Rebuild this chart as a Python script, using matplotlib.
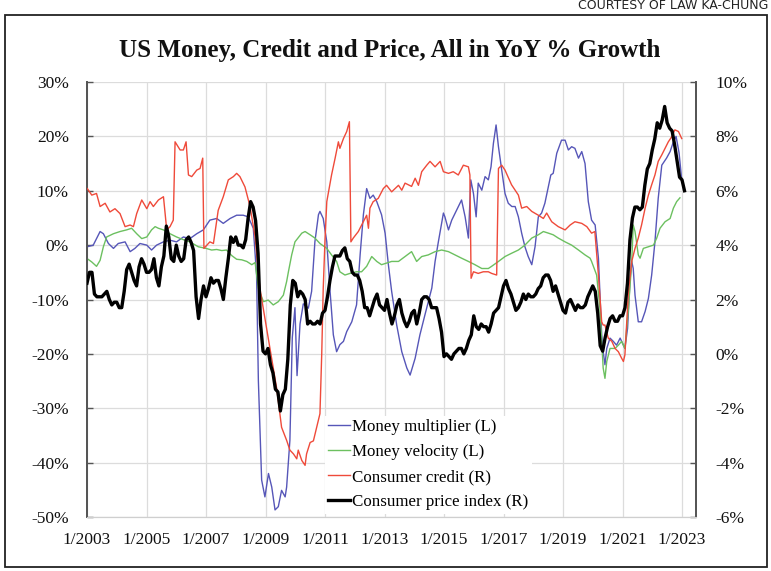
import numpy as np
import matplotlib
matplotlib.use("Agg")
import matplotlib.pyplot as plt
from matplotlib.patches import Rectangle

# ---------------- data ----------------
# Money multiplier YoY % (left axis)
mm_t = [2003.01, 2003.21, 2003.44, 2003.55, 2003.72, 2003.89, 2004.05, 2004.28, 2004.45, 2004.61,
        2004.78, 2005.01, 2005.17, 2005.34, 2005.57, 2005.79, 2006.01, 2006.24, 2006.46, 2006.69,
        2006.91, 2007.13, 2007.36, 2007.58, 2007.81, 2008.03, 2008.25, 2008.42, 2008.59, 2008.70,
        2008.76, 2008.87, 2008.98, 2009.10, 2009.21, 2009.32, 2009.43, 2009.54, 2009.66, 2009.71,
        2009.82, 2009.90, 2009.99, 2010.06, 2010.16, 2010.27, 2010.44, 2010.55, 2010.66, 2010.78,
        2010.83, 2010.94, 2011.06, 2011.17, 2011.28, 2011.39, 2011.50, 2011.62, 2011.73, 2011.90,
        2012.06, 2012.18, 2012.29, 2012.40, 2012.51, 2012.62, 2012.74, 2012.90, 2013.02, 2013.13,
        2013.24, 2013.41, 2013.58, 2013.75, 2013.86, 2014.03, 2014.19, 2014.36, 2014.59, 2014.70,
        2014.81, 2014.98, 2015.03, 2015.15, 2015.26, 2015.43, 2015.59, 2015.71, 2015.82, 2015.90,
        2015.99, 2016.08, 2016.15, 2016.27, 2016.38, 2016.49, 2016.58, 2016.66, 2016.75, 2016.83,
        2016.94, 2017.05, 2017.16, 2017.28, 2017.39, 2017.50, 2017.61, 2017.72, 2017.83, 2017.95,
        2018.06, 2018.17, 2018.28, 2018.39, 2018.51, 2018.59, 2018.67, 2018.79, 2018.95, 2019.07,
        2019.18, 2019.29, 2019.40, 2019.52, 2019.63, 2019.74, 2019.85, 2019.96, 2020.08, 2020.19,
        2020.30, 2020.35, 2020.41, 2020.47, 2020.58, 2020.69, 2020.80, 2020.92, 2020.97, 2021.08,
        2021.17, 2021.25, 2021.31, 2021.36, 2021.42, 2021.53, 2021.64, 2021.76, 2021.87, 2021.98,
        2022.09, 2022.20, 2022.32, 2022.48, 2022.60, 2022.71, 2022.80, 2022.90, 2022.99]
mm_v = [-0.3, 0.0, 2.5, 2.1, 0.3, -0.6, 0.3, 0.6, -1.2, -0.6,
        0.3, 0.0, -0.9, 0.0, 0.6, 0.9, 0.6, 1.5, 1.2, 2.1,
        2.8, 4.6, 4.9, 4.0, 4.9, 5.5, 5.5, 5.2, 3.1, -5.5,
        -24.9, -43.2, -46.3, -42.0, -44.5, -48.7, -48.1, -45.1, -46.3, -44.5,
        -35.9, -17.0, -11.5, -24.0, -14.5, -10.8, -11.6, -8.5, 0.6, 5.6,
        6.2, 4.9, 0.6, -8.5, -16.5, -19.6, -18.3, -17.7, -15.9, -14.1,
        -11.0, -1.8, 5.6, 10.4, 8.6, 9.2, 8.0, 5.6, 2.2, -3.6,
        -8.5, -14.7, -19.6, -22.6, -23.9, -20.8, -16.5, -12.8, -7.9, -3.0,
        0.6, 5.9, 5.2, 2.8, 4.6, 6.5, 8.3, 5.2, 1.3, 12.0,
        9.5, 5.2, 11.4, 10.1, 12.6, 12.0, 14.4, 18.7, 22.1, 18.1,
        13.8, 9.5, 7.7, 7.1, 7.1, 5.2, 2.2, -0.3, -2.1, -3.6,
        -0.3, 5.2, 5.9, 7.7, 10.8, 12.9, 13.2, 16.9, 19.3, 19.3,
        17.5, 18.1, 17.8, 16.0, 17.2, 15.0, 8.0, 4.6, 3.7, -2.4,
        -16.5, -19.6, -22.0, -19.0, -17.1, -17.7, -18.4, -17.1, -17.7, -19.0,
        -15.3, -6.7, -3.0, -4.3, -9.2, -14.1, -14.1, -12.2, -9.8, -5.5,
        0.6, 8.6, 14.7, 16.0, 17.2, 19.0, 20.0, 17.0, 12.0]

# Money velocity YoY % (left axis)
mv_t = [2003.01, 2003.16, 2003.32, 2003.44, 2003.55, 2003.66, 2003.89, 2004.11, 2004.33, 2004.50,
        2004.67, 2004.84, 2005.01, 2005.17, 2005.29, 2005.40, 2005.57, 2005.79, 2006.01, 2006.24,
        2006.46, 2006.74, 2007.00, 2007.19, 2007.36, 2007.53, 2007.69, 2007.86, 2008.03, 2008.20,
        2008.37, 2008.54, 2008.65, 2008.76, 2008.93, 2009.09, 2009.26, 2009.43, 2009.60, 2009.71,
        2009.77, 2009.88, 2009.99, 2010.22, 2010.33, 2010.50, 2010.66, 2010.83, 2011.06, 2011.22,
        2011.39, 2011.50, 2011.67, 2011.84, 2012.06, 2012.23, 2012.40, 2012.57, 2012.74, 2012.90,
        2013.07, 2013.24, 2013.47, 2013.69, 2013.91, 2014.08, 2014.25, 2014.47, 2014.70, 2014.92,
        2015.15, 2015.37, 2015.59, 2015.82, 2016.04, 2016.27, 2016.49, 2016.60, 2016.83, 2017.05,
        2017.27, 2017.50, 2017.72, 2017.95, 2018.17, 2018.34, 2018.51, 2018.67, 2018.84, 2019.07,
        2019.29, 2019.52, 2019.74, 2019.91, 2019.96, 2020.13, 2020.24, 2020.35, 2020.41, 2020.47,
        2020.58, 2020.75, 2020.86, 2020.97, 2021.08, 2021.20, 2021.31, 2021.36, 2021.42, 2021.53,
        2021.59, 2021.70, 2021.87, 2022.04, 2022.15, 2022.26, 2022.43, 2022.60, 2022.71, 2022.82,
        2022.93]
mv_v = [-2.5, -3.1, -3.9, -2.8, -0.3, 1.5, 2.1, 2.5, 2.8, 3.1,
        2.1, 1.2, 1.5, 2.8, 3.4, 3.1, 2.8, 2.1, 1.5, 1.0,
        0.6, -0.3, -0.6, -0.9, -0.8, -1.0, -0.9, -1.9, -2.6, -2.7,
        -3.0, -3.6, -3.2, -7.9, -10.4, -10.1, -11.0, -10.4, -9.2, -6.7,
        -4.9, -1.8, 0.6, 2.2, 2.5, 1.9, 1.3, 0.3, -0.6, -1.8,
        -3.0, -4.9, -5.5, -5.2, -4.9, -4.9, -3.9, -2.1, -3.0, -3.6,
        -3.3, -3.0, -3.0, -2.1, -1.2, -3.0, -2.1, -1.8, -1.2, -0.9,
        -1.2, -1.8, -2.4, -3.0, -3.6, -4.3, -4.3, -3.9, -3.0, -2.1,
        -1.5, -0.9, 0.0, 1.3, 1.9, 2.5, 2.2, 1.9, 1.3, 0.6,
        0.0, -0.9, -1.8, -2.4, -3.0, -5.5, -11.6, -22.6, -24.5, -21.4,
        -19.0, -19.0, -18.4, -17.7, -19.0, -11.6, -3.0, 3.7, 2.5, -1.8,
        -2.4, -0.6, -0.3, 0.0, 1.3, 3.1, 4.3, 4.9, 6.8, 8.0,
        8.7]

# Consumer credit YoY % (right axis)
cc_t = [2003.01, 2003.16, 2003.32, 2003.44, 2003.61, 2003.77, 2003.94, 2004.11, 2004.28, 2004.45,
        2004.56, 2004.67, 2004.84, 2005.01, 2005.12, 2005.23, 2005.40, 2005.57, 2005.68, 2005.79,
        2005.90, 2005.96, 2006.13, 2006.24, 2006.33, 2006.41, 2006.52, 2006.69, 2006.80, 2006.89,
        2006.93, 2007.13, 2007.25, 2007.41, 2007.58, 2007.75, 2007.92, 2008.03, 2008.14, 2008.31,
        2008.48, 2008.65, 2008.81, 2008.98, 2009.15, 2009.38, 2009.54, 2009.71, 2009.82, 2009.94,
        2010.05, 2010.10, 2010.22, 2010.33, 2010.38, 2010.50, 2010.61, 2010.72, 2010.83, 2010.89,
        2010.94, 2011.00, 2011.06, 2011.22, 2011.34, 2011.45, 2011.50, 2011.62, 2011.73, 2011.82,
        2011.87, 2011.95, 2012.12, 2012.29, 2012.40, 2012.46, 2012.51, 2012.62, 2012.79, 2012.96,
        2013.07, 2013.24, 2013.47, 2013.58, 2013.69, 2013.91, 2014.03, 2014.14, 2014.25, 2014.42,
        2014.53, 2014.70, 2014.87, 2014.98, 2015.15, 2015.31, 2015.48, 2015.65, 2015.82, 2015.87,
        2015.91, 2015.99, 2016.15, 2016.32, 2016.49, 2016.60, 2016.77, 2016.83, 2016.94, 2017.05,
        2017.27, 2017.50, 2017.61, 2017.78, 2017.95, 2018.17, 2018.34, 2018.45, 2018.62, 2018.84,
        2019.07, 2019.24, 2019.40, 2019.63, 2019.80, 2019.96, 2020.07, 2020.19, 2020.30, 2020.35,
        2020.41, 2020.52, 2020.64, 2020.75, 2020.86, 2020.97, 2021.03, 2021.08, 2021.20, 2021.31,
        2021.42, 2021.53, 2021.64, 2021.76, 2021.87, 2021.98, 2022.09, 2022.20, 2022.32, 2022.43,
        2022.54, 2022.65, 2022.76, 2022.88, 2022.99]
cc_v = [6.08, 5.84, 5.90, 5.42, 5.54, 5.22, 5.34, 5.16, 4.68, 4.74,
        4.68, 5.16, 5.66, 5.34, 5.60, 5.42, 5.66, 5.78, 4.56, 4.68,
        4.92, 7.80, 7.50, 7.50, 7.80, 6.58, 6.52, 6.76, 6.82, 7.20,
        3.88, 4.12, 4.06, 5.28, 5.78, 6.40, 6.52, 6.64, 6.52, 6.14,
        5.42, 4.30, 2.42, 1.30, 0.20, -1.30, -2.70, -3.18, -3.54, -3.68,
        -3.86, -3.54, -3.92, -4.10, -3.68, -3.26, -3.20, -2.70, -2.20, 0.00,
        2.40, 4.20, 5.60, 6.58, 7.20, 7.80, 7.56, 7.92, 8.18, 8.54,
        4.12, 4.26, 4.50, 4.86, 5.10, 4.62, 5.36, 5.60, 5.72, 6.08,
        6.20, 5.96, 6.20, 6.02, 6.28, 6.16, 6.46, 6.20, 6.70, 6.94,
        7.08, 6.88, 7.08, 6.70, 6.64, 6.70, 6.58, 6.94, 6.88, 6.58,
        2.78, 3.02, 2.96, 3.02, 3.02, 2.96, 2.90, 6.82, 6.94, 6.76,
        6.22, 5.84, 5.36, 5.42, 5.24, 5.10, 4.98, 5.18, 4.86, 4.68,
        4.56, 4.74, 4.86, 4.80, 4.68, 4.44, 4.50, 2.90, 1.18, 1.06,
        1.06, 0.58, 0.46, 0.20, 0.08, -0.16, -0.28, -0.04, 2.30, 3.40,
        3.88, 4.26, 4.74, 5.36, 5.84, 6.22, 6.58, 7.08, 7.32, 7.56,
        7.80, 7.98, 8.24, 8.18, 7.92]

# Consumer price index YoY % (right axis), monthly from 1/2003
cpi_start = 2003
cpi_v = [2.6, 3.0, 3.0, 2.2, 2.1, 2.1, 2.1, 2.2, 2.3, 2.0, 1.8, 1.9,
         1.9, 1.7, 1.7, 2.3, 3.1, 3.3, 3.0, 2.7, 2.5, 3.2, 3.5, 3.3,
         3.0, 3.0, 3.1, 3.5, 2.8, 2.5, 3.2, 3.6, 4.7, 4.3, 3.5, 3.4,
         4.0, 3.6, 3.4, 3.5, 4.2, 4.3, 4.1, 3.8, 2.1, 1.3, 2.0, 2.5,
         2.1, 2.4, 2.8, 2.6, 2.7, 2.7, 2.4, 2.0, 2.8, 3.5, 4.3, 4.1,
         4.3, 4.0, 4.0, 3.9, 4.2, 5.0, 5.6, 5.4, 4.9, 3.7, 1.1, 0.1,
         0.0, 0.2, -0.4, -0.7, -1.3, -1.4, -2.1, -1.5, -1.3, -0.2, 1.8, 2.7,
         2.6, 2.1, 2.3, 2.2, 2.0, 1.1, 1.2, 1.1, 1.1, 1.2, 1.1, 1.5,
         1.6, 2.1, 2.7, 3.2, 3.6, 3.6, 3.6, 3.8, 3.9, 3.5, 3.4, 3.0,
         2.9, 2.9, 2.7, 2.3, 1.7, 1.7, 1.4, 1.7, 2.0, 2.2, 1.8, 1.7,
         1.6, 2.0, 1.5, 1.1, 1.4, 1.8, 2.0, 1.5, 1.2, 1.0, 1.2, 1.5,
         1.6, 1.1, 1.5, 2.0, 2.1, 2.1, 2.0, 1.7, 1.7, 1.7, 1.3, 0.8,
         -0.1, 0.0, -0.1, -0.2, 0.0, 0.1, 0.2, 0.2, 0.0, 0.2, 0.5, 0.7,
         1.4, 1.0, 0.9, 1.1, 1.0, 1.0, 0.8, 1.1, 1.5, 1.6, 1.7, 2.1,
         2.5, 2.7, 2.4, 2.2, 1.9, 1.6, 1.7, 1.9, 2.2, 2.0, 2.2, 2.1,
         2.1, 2.2, 2.4, 2.5, 2.8, 2.9, 2.9, 2.7, 2.3, 2.5, 2.2, 1.9,
         1.6, 1.5, 1.9, 2.0, 1.8, 1.6, 1.8, 1.7, 1.7, 1.8, 2.1, 2.3,
         2.5, 2.3, 1.5, 0.3, 0.1, 0.6, 1.0, 1.3, 1.4, 1.2, 1.2, 1.4,
         1.4, 1.7, 2.6, 4.2, 5.0, 5.4, 5.4, 5.3, 5.4, 6.2, 6.8, 7.0,
         7.5, 7.9, 8.5, 8.3, 8.6, 9.1, 8.5, 8.3, 8.2, 7.7, 7.1, 6.5,
         6.4, 6.0]

x_tick_years = [2003, 2005, 2007, 2009, 2011, 2013, 2015, 2017, 2019, 2021, 2023]
x_tick_labels = ["1/%d" % y for y in x_tick_years]
left_ticks = [30, 20, 10, 0, -10, -20, -30, -40, -50]
right_ticks = [10, 8, 6, 4, 2, 0, -2, -4, -6]

labels = ["Money multiplier (L)", "Money velocity (L)",
          "Consumer credit (R)", "Consumer price index (R)"]
title = "US Money, Credit and Price, All in YoY % Growth"
credit_text = "COURTESY OF LAW KA-CHUNG"

# ---------------- figure ----------------
W, H = 771, 571
fig = plt.figure(figsize=(W / 100, H / 100), dpi=100)
fig.patch.set_facecolor("white")

serif = ["Liberation Serif", "DejaVu Serif"]

ax = fig.add_axes([87 / W, 1 - 517 / H, (696 - 87) / W, (517 - 82) / H])
ax2 = ax.twinx()

cpi_t = cpi_start + np.arange(len(cpi_v)) / 12.0

c_blue = "#5656b8"
c_green = "#6cc060"
c_red = "#ef4a3a"

l1, = ax.plot(mm_t, mm_v, color=c_blue, lw=1.0, zorder=3)
l2, = ax.plot(mv_t, mv_v, color=c_green, lw=1.0, zorder=3)
l3, = ax2.plot(cc_t, cc_v, color=c_red, lw=1.0, zorder=3)
l4, = ax2.plot(cpi_t, cpi_v, color="black", lw=2.4, zorder=4)

ax.set_xlim(2003.0, 2023.47)
ax.set_ylim(-50, 30)
ax2.set_ylim(-6, 10)

ax.set_xticks(x_tick_years)
ax.set_xticklabels(x_tick_labels)
ax.set_yticks(left_ticks)
ax.set_yticklabels(["%d%%" % v for v in left_ticks])
ax2.set_yticks(right_ticks)
ax2.set_yticklabels(["%d%%" % v for v in right_ticks])

ax.grid(True, color="#dcdcdc", lw=0.9)
ax.set_axisbelow(True)

for a in (ax, ax2):
    a.spines["top"].set_visible(False)
    a.spines["bottom"].set_color("#cfcfcf")
    a.spines["left"].set_color("#555555")
    a.spines["right"].set_color("#555555")
    a.spines["left"].set_linewidth(1.3)
    a.spines["right"].set_linewidth(1.3)

ax.tick_params(axis="y", direction="in", length=4, width=1.0, color="#555555",
               pad=13, labelsize=12.5)
ax.tick_params(axis="x", length=0, pad=11, labelsize=12.5)
ax2.tick_params(axis="y", direction="in", length=4, width=1.0, color="#555555",
                pad=14, labelsize=12.5)
for lab in ax.get_xticklabels() + ax.get_yticklabels() + ax2.get_yticklabels():
    lab.set_family(serif)
    lab.set_color("#111111")

leg = ax2.legend([l1, l2, l3, l4], labels, loc="upper left",
                 bbox_to_anchor=(325 / W, 1 - 416 / H), bbox_transform=fig.transFigure,
                 prop={"family": serif, "size": 12.2}, frameon=True, fancybox=False,
                 edgecolor="none", facecolor="white", framealpha=1.0,
                 handlelength=1.3, handletextpad=0.12, labelspacing=0.53,
                 borderpad=0.2, borderaxespad=0)
leg.set_zorder(10)

fig.text(390 / W, 1 - 50 / H, title, ha="center", va="center",
         fontsize=18, fontweight="bold", family=serif, color="#111111")

fig.text(768 / W, 1 - 9 / H, credit_text, ha="right", va="baseline",
         fontsize=9, family=["Liberation Sans Narrow", "DejaVu Sans"], color="#222222")

fig.add_artist(Rectangle((5 / W, 1 - 567 / H), (767 - 5) / W, (567 - 15) / H,
                         transform=fig.transFigure, fill=False,
                         edgecolor="#222222", lw=1.3))

fig.savefig("out.png", dpi=100)
